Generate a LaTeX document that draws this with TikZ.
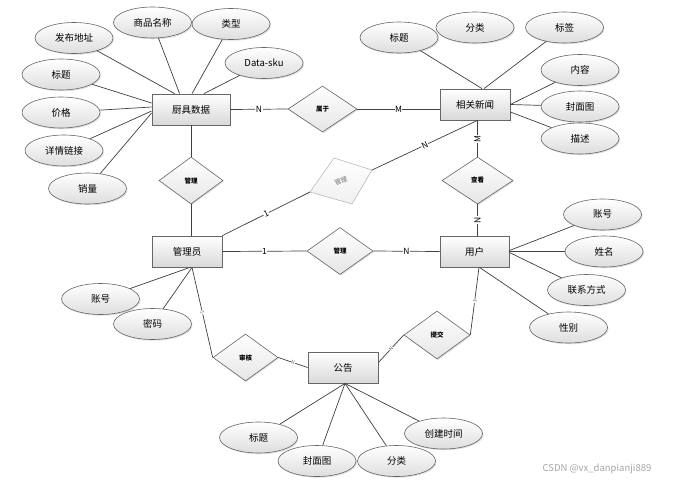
\documentclass[tikz,border=0pt]{standalone}
\usepackage{fontspec}
\setmainfont{Noto Sans CJK SC}
\usetikzlibrary{shapes.geometric,shadows,calc}
\begin{document}
\begin{tikzpicture}[x=1pt,y=-1pt,
 conn/.style={draw=black!75,line width=0.7pt},
 shad/.style={drop shadow={shadow xshift=1pt,shadow yshift=-1.2pt,opacity=0.25}},
 ent/.style={rectangle,draw=black!60,line width=0.8pt,top color=white,bottom color=black!15,minimum height=31pt,inner sep=0pt,font=\fontsize{9.5}{10}\selectfont,shad},
 attr/.style={ellipse,draw=black!60,line width=0.6pt,top color=white,bottom color=black!13,minimum width=78pt,minimum height=31pt,inner sep=0pt,font=\fontsize{9.5}{10}\selectfont,shad},
 rel/.style={diamond,draw=black!60,line width=0.6pt,top color=white,bottom color=black!10,inner sep=0pt,font=\fontsize{6.5}{7}\bfseries\selectfont,shad},
 card/.style={fill=white,inner sep=0.5pt,font=\fontsize{8.5}{9}\selectfont},
 tinylab/.style={fill=white,inner sep=0.3pt,font=\fontsize{5}{5}\selectfont,text=black!60}]
\fill[white] (0,0) rectangle (676,482);
\useasboundingbox (0,0) rectangle (676,482);

% entities
\node[ent,minimum width=78pt] (kj) at (191,109.5) {厨具数据};
\node[ent,minimum width=70pt] (xw) at (475,104.5) {相关新闻};
\node[ent,minimum width=70pt] (gly) at (187,251.5) {管理员};
\node[ent,minimum width=69pt] (yh) at (474.5,251.5) {用户};
\node[ent,minimum width=70pt] (gg) at (343,367.5) {公告};

% relationships
\node[rel,minimum width=69pt,minimum height=46pt] (sy) at (322.5,109) {属于};
\node[rel,minimum width=64pt,minimum height=47pt] (gl1) at (191,180.5) {管理};
\node[rel,minimum width=71pt,minimum height=47pt] (ck) at (477.5,180.5) {查看};
\node[rel,minimum width=66pt,minimum height=47pt] (gl2) at (340,251) {管理};
\node[rel,minimum width=65pt,minimum height=47pt] (sh) at (245.5,357.5) {审核};
\node[rel,minimum width=66pt,minimum height=48pt] (tj) at (437,335) {提交};

% faded skewed relationship
\coordinate (gpT) at (334,158);
\coordinate (gpR) at (372,170);
\coordinate (gpB) at (352,204);
\coordinate (gpL) at (310,192);
\shade[top color=white,bottom color=black!6,draw=black!30,line width=0.5pt] (gpT) -- (gpR) -- (gpB) -- (gpL) -- cycle;
\node[font=\fontsize{6.5}{7}\selectfont,text=black!55,rotate=22,inner sep=0pt] (gl3) at (341,181) {管理};

% attributes of 厨具数据
\node[attr] (fbdz) at (74,38) {发布地址};
\node[attr] (spmc) at (152.5,22.5) {商品名称};
\node[attr] (lx) at (231,24) {类型};
\node[attr] (dsku) at (264,63) {Data-sku};
\node[attr] (bt1) at (61,74.5) {标题};
\node[attr] (jg) at (61,112.5) {价格};
\node[attr] (xqlj) at (64,150.5) {详情链接};
\node[attr] (xl) at (87.5,188.5) {销量};

% attributes of 相关新闻
\node[attr] (bt2) at (399,37.5) {标题};
\node[attr] (fl1) at (475,27.5) {分类};
\node[attr] (bq) at (564.5,27.5) {标签};
\node[attr] (nr) at (580,70) {内容};
\node[attr] (fmt1) at (580,106.5) {封面图};
\node[attr] (ms) at (580,138.5) {描述};

% attributes of 用户
\node[attr] (zh2) at (602.5,214.5) {账号};
\node[attr] (xm) at (604,251.5) {姓名};
\node[attr] (lxfs) at (586.5,290) {联系方式};
\node[attr] (xb) at (568.5,327.5) {性别};

% attributes of 管理员
\node[attr] (zh1) at (100.5,299) {账号};
\node[attr] (mm) at (152.5,324) {密码};

% attributes of 公告
\node[attr] (bt3) at (258.5,437.5) {标题};
\node[attr] (fmt2) at (317,461) {封面图};
\node[attr] (fl2) at (396.5,461) {分类};
\node[attr] (cjsj) at (443.5,433.5) {创建时间};

% attribute connectors
\draw[conn] (fbdz) -- ($(kj.north west)+(23,0)$);
\draw[conn] (spmc) -- ($(kj.north west)+(28,0)$);
\draw[conn] (lx) -- ($(kj.north)+(1,0)$);
\draw[conn] (dsku) -- ($(kj.north)+(13,0)$);
\draw[conn] (bt1) -- ($(kj.west)+(0,-6.5)$);
\draw[conn] (jg) -- ($(kj.west)+(0,-2.5)$);
\draw[conn] (xqlj) -- ($(kj.west)+(0,1.5)$);
\draw[conn] (xl) -- ($(kj.west)+(0,3.5)$);

\draw[conn] (bt2) -- ($(xw.north)+(7,0)$);
\draw[conn] ($(xw.north)+(8,0)$) -- ($(xw.north)+(8,0)$ |- fl1.south);
\draw[conn] (bq) -- ($(xw.north)+(9,0)$);
\draw[conn] (nr) -- (xw.east);
\draw[conn] (fmt1) -- (xw.east);
\draw[conn] (ms) -- ($(xw.east)+(0,7.5)$);

\draw[conn] (zh2) -- ($(yh.east)+(0,-1)$);
\draw[conn] (xm) -- (yh.east);
\draw[conn] (lxfs) -- ($(yh.east)+(0,1)$);
\draw[conn] (xb) -- ($(yh.south)+(5,0)$);

\draw[conn] (zh1) -- ($(gly.south)+(3,0)$);
\draw[conn] (mm) -- ($(gly.south)+(5,0)$);

\draw[conn] (bt3) -- ($(gg.south)+(2,0)$);
\draw[conn] (fmt2) -- ($(gg.south)+(2,0)$);
\draw[conn] (fl2) -- ($(gg.south)+(2,0)$);
\draw[conn] (cjsj) -- ($(gg.south)+(2,0)$);

% relationship connectors
\draw[conn] (kj.east) -- node[card] {N} (sy.west);
\draw[conn] (sy.east) -- node[card] {M} (sy.east -| xw.west);
\draw[conn] (kj.south) -- (gl1.north);
\draw[conn] (gl1.south) -- (gl1.south |- gly.north);
\draw[conn] (ck.north |- xw.south) -- node[card,rotate=90] {M} (ck.north);
\draw[conn] (ck.south) -- node[card,rotate=90] {N} (ck.south |- yh.north);
\draw[conn] (gly.east) -- node[card] {1} (gl2.west);
\draw[conn] (gl2.east) -- node[card] {N} (yh.west);
\draw[conn] (gly.north east) -- node[card,sloped] {1} (gpL);
\draw[conn] (gpR) -- node[card,sloped] {N} (ck.north |- xw.south);
\draw[conn] ($(gly.south)+(5,0)$) -- node[tinylab,sloped] {1} (sh.west);
\draw[conn] (sh.east) -- node[tinylab,sloped] {N} (gg.west);
\draw[conn] ($(yh.south)+(4.5,0)$) -- node[tinylab,sloped] {1} (tj.east);
\draw[conn] (tj.west) -- node[tinylab,sloped] {N} ($(gg.east)+(0,-5)$);

% watermark
\node[font=\fontsize{9.5}{10}\selectfont,text=black!35] (wm) at (597,469) {CSDN @vx\_danpianji889};
\end{tikzpicture}
\end{document}
